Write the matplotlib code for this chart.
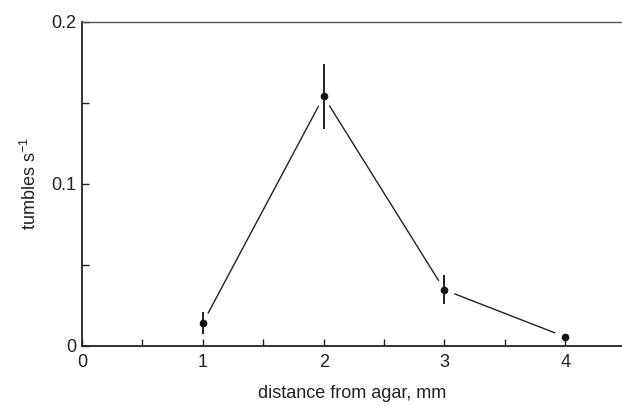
import matplotlib.pyplot as plt
from matplotlib.ticker import MultipleLocator, FixedFormatter, FixedLocator

plt.rcParams['font.family'] = ['Liberation Sans', 'DejaVu Sans']
plt.rcParams['mathtext.default'] = 'regular'

distance = [1, 2, 3, 4]
tumbles = [0.0142, 0.154, 0.0346, 0.0056]
err = [0.007, 0.02, 0.009, 0.0]

fig = plt.figure(figsize=(6.22, 4.07), dpi=100)
ax = fig.add_axes([0.132, 0.150, 0.868, 0.796])

ax.errorbar(distance, tumbles, yerr=err, fmt='o', color='#111111',
            markersize=4.5, elinewidth=1.3, capsize=0, zorder=3)

# connecting segments with small gaps at each point
for i in range(len(distance) - 1):
    ax.annotate('', xy=(distance[i + 1], tumbles[i + 1]),
                xytext=(distance[i], tumbles[i]),
                arrowprops=dict(arrowstyle='-', color='#222222', lw=1.0,
                                shrinkA=8, shrinkB=8))

ax.set_xlim(0, 4.47)
ax.set_ylim(0, 0.2)

ax.xaxis.set_major_locator(FixedLocator([0, 1, 2, 3, 4]))
ax.xaxis.set_minor_locator(MultipleLocator(0.5))
ax.yaxis.set_major_locator(FixedLocator([0, 0.1, 0.2]))
ax.yaxis.set_major_formatter(FixedFormatter(['0', '0.1', '0.2']))
ax.yaxis.set_minor_locator(MultipleLocator(0.05))

ax.tick_params(which='both', direction='in', top=False, right=False,
               width=1.0, color='#222222', labelsize=13, labelcolor='#222222')
ax.tick_params(which='both', length=5)
ax.tick_params(axis='x', pad=6)
ax.tick_params(axis='y', pad=4)

ax.spines['right'].set_visible(False)
for s in ['left', 'bottom', 'top']:
    ax.spines[s].set_linewidth(1.3)
    ax.spines[s].set_color('#222222')
ax.spines['top'].set_linewidth(1.0)
ax.spines['top'].set_color('#555555')

ax.set_xlabel('distance from agar, mm', fontsize=13, color='#222222', labelpad=10)
ax.set_ylabel('tumbles s$^{-1}$', fontsize=13, color='#222222', labelpad=8)

fig.savefig('out.png', dpi=100)
